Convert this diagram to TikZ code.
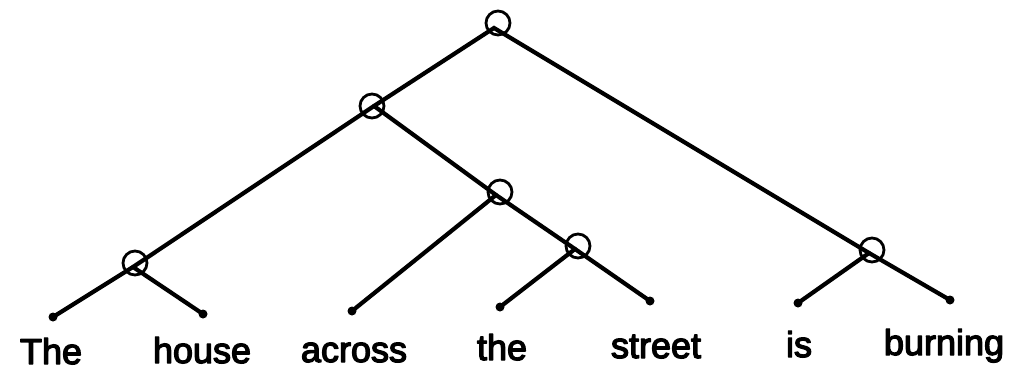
\documentclass[tikz,border=0pt]{standalone}
\usepackage{fontspec}
\newfontfamily\lbl{Liberation Sans}
\newcommand{\thicktext}[1]{\special{pdf:literal direct 2 Tr 1.3 w 1 J 1 j}#1\special{pdf:literal direct 0 Tr}}
\begin{document}
\begin{tikzpicture}[x=1pt,y=-1pt,
  edge/.style={line width=4.2pt,line cap=round},
  ring/.style={draw,circle,line width=2.8pt,minimum size=24pt,inner sep=0pt},
  word/.style={anchor=base,inner sep=0pt,font=\lbl\fontsize{36}{40}\selectfont},
  tip/.style={circle,fill,inner sep=0pt,minimum size=9pt}]
\useasboundingbox (0,0) rectangle (1011,370);
% junctions
\coordinate (R) at (494,28);
\coordinate (A) at (374,106);
\coordinate (B) at (496,195);
\coordinate (C) at (575,249);
\coordinate (D) at (133,267);
\coordinate (E) at (869,253);
% leaf ends
\node[tip] (l1) at (53,317) {};
\node[tip] (l2) at (203,314) {};
\node[tip] (l3) at (352,311) {};
\node[tip] (l4) at (500,307) {};
\node[tip] (l5) at (650,301) {};
\node[tip] (l6) at (798,303) {};
\node[tip] (l7) at (950,300) {};
% edges
\draw[edge] (l1.center) -- (D) -- (A) -- (R) -- (E) -- (l7.center);
\draw[edge] (A) -- (B) -- (C) -- (l5.center);
\draw[edge] (D) -- (l2.center);
\draw[edge] (B) -- (l3.center);
\draw[edge] (C) -- (l4.center);
\draw[edge] (E) -- (l6.center);
% rings
\node[ring] (rR) at ([shift={(4,-5)}]R) {};
\node[ring] (rA) at ([shift={(-2,0)}]A) {};
\node[ring] (rB) at ([shift={(4,-3)}]B) {};
\node[ring] (rC) at ([shift={(3,-3)}]C) {};
\node[ring] (rD) at ([shift={(2,-4)}]D) {};
\node[ring] (rE) at ([shift={(3,-3)}]E) {};
% words
\node[word] (w1) at (51,364) {\thicktext{The}};
\node[word] (w2) at (202,363) {\thicktext{house}};
\node[word] (w3) at (354,362) {\thicktext{across}};
\node[word] (w4) at (502,360) {\thicktext{the}};
\node[word] (w5) at (656,358) {\thicktext{street}};
\node[word] (w6) at (799,357) {\thicktext{is}};
\node[word] (w7) at (944,355) {\thicktext{burning}};
\end{tikzpicture}
\end{document}
